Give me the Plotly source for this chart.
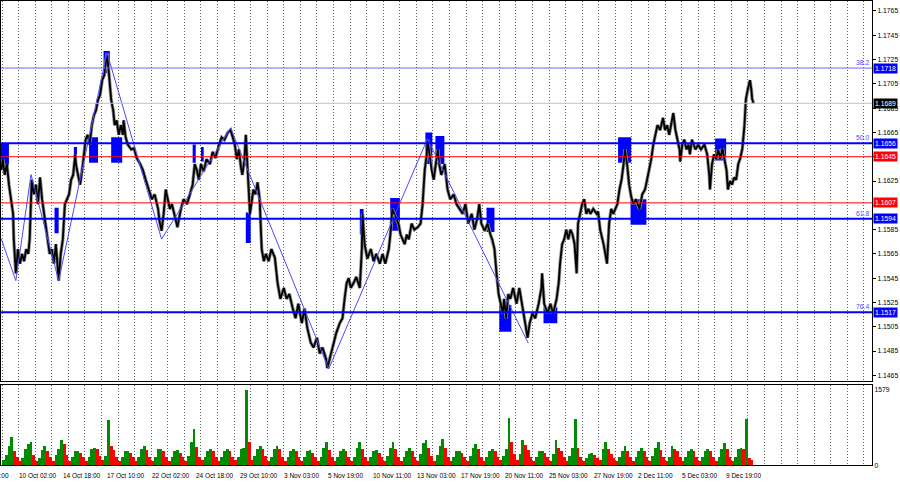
import plotly.graph_objects as go

# ---------------- data ----------------
# hour index: 0 = 7 Oct 10:00 (H1 bars, weekends skipped)
price_hours = [37, 39, 42, 45, 48, 51, 54, 55, 58, 61, 64, 67, 70, 73, 76, 78, 80, 81, 84, 87,
               90, 93, 96, 99, 102, 105, 107, 110, 113, 116, 119, 120, 123, 126, 129, 132, 135, 138, 141, 144,
               145, 148, 151, 154, 157, 159, 162, 165, 168, 171, 174, 177, 180, 183, 186, 188, 190, 193, 196, 199,
               201, 204, 207, 210, 213, 214, 217, 220, 225, 229, 233, 238, 242, 246, 251, 255, 259, 264, 266, 269,
               272, 275, 278, 281, 284, 288, 292, 297, 301, 306, 310, 314, 317, 320, 323, 326, 330, 334, 339, 343,
               347, 352, 356, 360, 365, 369, 372, 375, 378, 381, 384, 386, 389, 391, 394, 397, 400, 402, 405, 408,
               411, 414, 417, 420, 424, 428, 433, 437, 441, 446, 450, 454, 459, 463, 467, 472, 476, 480, 485, 489,
               494, 498, 502, 507, 509, 514, 518, 522, 527, 531, 534, 537, 540, 543, 547, 551, 556, 559, 560, 563,
               567, 572, 576, 580, 585, 589, 593, 598, 601, 603, 606, 609, 612, 615, 618, 621, 624, 627, 631, 635,
               640, 644, 647, 650, 653, 654, 657, 660, 663, 666, 669, 671, 674, 679, 683, 687, 692, 696, 700, 705,
               709, 713, 718, 722, 726, 729, 732, 737, 741, 745, 748, 751, 754, 757, 760, 763, 765, 768, 771, 774,
               778, 783, 787, 791, 794, 799, 802, 806, 810, 815, 819, 820, 823, 828, 832, 836, 841, 844, 846, 849,
               852, 855, 858, 861, 864, 867, 870, 872, 875, 878, 881, 884, 887, 890, 894, 899, 901, 904, 909, 912,
               914, 917, 920, 923, 926, 929, 932, 935, 938, 940, 943, 946, 949, 952, 956, 961, 965, 969, 972, 975,
               978, 981, 984, 987, 991, 995, 998, 1001, 1004, 1007, 1010, 1013, 1016, 1019, 1020, 1023, 1026, 1029, 1032, 1034,
               1037, 1042, 1046, 1050, 1055, 1059, 1062, 1063, 1066, 1069, 1072, 1075, 1078, 1081, 1084, 1087, 1089, 1092, 1095, 1098,
               1101, 1104, 1107, 1110, 1113, 1115, 1118, 1120, 1121, 1123, 1124, 1126]
price_close = [1.1634, 1.1643, 1.1630, 1.1639, 1.1622, 1.1610, 1.1598, 1.1577, 1.1549, 1.1569, 1.1557, 1.1565, 1.1559, 1.1569, 1.1565, 1.1577, 1.1614, 1.1626, 1.1614, 1.1622,
               1.1606, 1.1628, 1.1610, 1.1598, 1.1585, 1.1577, 1.1565, 1.1569, 1.1557, 1.1573, 1.1549, 1.1543, 1.1565, 1.1577, 1.1606, 1.1610, 1.1614, 1.1626, 1.1630, 1.1647,
               1.1639, 1.1630, 1.1622, 1.1634, 1.1651, 1.1659, 1.1663, 1.1655, 1.1671, 1.1679, 1.1683, 1.1692, 1.1696, 1.1708, 1.1712, 1.1724, 1.1730, 1.1712, 1.1692, 1.1683,
               1.1671, 1.1675, 1.1663, 1.1671, 1.1663, 1.1675, 1.1661, 1.1655, 1.1651, 1.1652, 1.1644, 1.1639, 1.1634, 1.1626, 1.1618, 1.1610, 1.1614, 1.1602, 1.1592, 1.1584,
               1.1598, 1.1618, 1.1610, 1.1602, 1.1606, 1.1595, 1.1587, 1.1602, 1.1610, 1.1606, 1.1614, 1.1622, 1.1639, 1.1634, 1.1626, 1.1639, 1.1633, 1.1643, 1.1639, 1.1649,
               1.1644, 1.1655, 1.1661, 1.1659, 1.1665, 1.1667, 1.1661, 1.1655, 1.1643, 1.1651, 1.1636, 1.1630, 1.1643, 1.1663, 1.1630, 1.1598, 1.1610, 1.1618, 1.1614, 1.1624,
               1.1610, 1.1569, 1.1559, 1.1565, 1.1559, 1.1569, 1.1562, 1.1541, 1.1528, 1.1537, 1.1528, 1.1532, 1.1520, 1.1512, 1.1524, 1.1508, 1.1520, 1.1504, 1.1492, 1.1488,
               1.1496, 1.1483, 1.1488, 1.1479, 1.1471, 1.1483, 1.1492, 1.1500, 1.1508, 1.1512, 1.1528, 1.1541, 1.1545, 1.1537, 1.1541, 1.1546, 1.1537, 1.1569, 1.1598, 1.1573,
               1.1561, 1.1569, 1.1559, 1.1565, 1.1557, 1.1565, 1.1557, 1.1569, 1.1585, 1.1602, 1.1598, 1.1594, 1.1590, 1.1581, 1.1577, 1.1573, 1.1581, 1.1577, 1.1590, 1.1585,
               1.1587, 1.1590, 1.1606, 1.1634, 1.1647, 1.1659, 1.1647, 1.1634, 1.1626, 1.1639, 1.1651, 1.1639, 1.1630, 1.1639, 1.1618, 1.1610, 1.1614, 1.1606, 1.1602, 1.1598,
               1.1606, 1.1590, 1.1598, 1.1585, 1.1594, 1.1606, 1.1590, 1.1584, 1.1590, 1.1581, 1.1577, 1.1569, 1.1549, 1.1532, 1.1524, 1.1516, 1.1528, 1.1512, 1.1532, 1.1528,
               1.1537, 1.1524, 1.1537, 1.1524, 1.1512, 1.1496, 1.1508, 1.1516, 1.1512, 1.1524, 1.1537, 1.1549, 1.1524, 1.1516, 1.1524, 1.1516, 1.1528, 1.1541, 1.1557, 1.1573,
               1.1577, 1.1585, 1.1577, 1.1585, 1.1581, 1.1573, 1.1549, 1.1590, 1.1598, 1.1606, 1.1610, 1.1598, 1.1602, 1.1598, 1.1602, 1.1598, 1.1600, 1.1585, 1.1573, 1.1565,
               1.1557, 1.1590, 1.1602, 1.1598, 1.1602, 1.1606, 1.1618, 1.1626, 1.1639, 1.1651, 1.1639, 1.1622, 1.1612, 1.1606, 1.1610, 1.1602, 1.1614, 1.1618, 1.1626, 1.1634,
               1.1643, 1.1655, 1.1663, 1.1671, 1.1667, 1.1677, 1.1667, 1.1671, 1.1663, 1.1671, 1.1681, 1.1667, 1.1659, 1.1651, 1.1641, 1.1655, 1.1659, 1.1651, 1.1655, 1.1647,
               1.1659, 1.1651, 1.1655, 1.1651, 1.1655, 1.1647, 1.1630, 1.1618, 1.1639, 1.1647, 1.1643, 1.1651, 1.1643, 1.1652, 1.1643, 1.1634, 1.1618, 1.1625, 1.1622, 1.1628,
               1.1626, 1.1639, 1.1644, 1.1652, 1.1671, 1.1692, 1.1701, 1.1706, 1.1708, 1.1700, 1.1693, 1.1689]

zigzag_hours = [37, 58, 80, 120, 190, 269, 369, 511, 654, 800]
zigzag_price = [1.15772, 1.15430, 1.16303, 1.15430, 1.17307, 1.15772, 1.16687, 1.14703, 1.16597, 1.14915]

fib_levels = [1.1718, 1.1656, 1.1594, 1.1517]
fib_names = ["38.2", "50.0", "61.8", "76.4"]
red_levels = [1.1645, 1.1607]
bid_price = 1.1689

zone_start = [30, 114, 142, 164, 185, 196, 314, 326, 391, 556, 600, 651, 665.5, 739.5, 758, 822, 930, 948, 1070.5]
zone_end = [48, 120, 146.5, 177, 194, 212, 318.5, 330, 398, 561.5, 614, 661, 678.5, 751, 775.5, 842, 949, 971, 1086.5]
zone_top = [1.1656, 1.1603, 1.1653, 1.1661, 1.1732, 1.1661, 1.1655, 1.1653, 1.1599, 1.1602, 1.1611, 1.1665, 1.1662, 1.1603, 1.1523, 1.1521, 1.1661, 1.1610, 1.1660]
zone_bottom = [1.1637, 1.1582, 1.1637, 1.1640, 1.1714, 1.1640, 1.1640, 1.1641, 1.1574, 1.1581, 1.1584, 1.1639, 1.1639, 1.1583, 1.1501, 1.1508, 1.1640, 1.1589, 1.1642]

# volume, 4-hour blocks starting 9 Oct 00:00 (six blocks per day)
volume_4h = [110, 220, 400, 600, 310, 170,   100, 150, 340, 450, 480, 210,   100, 150, 320, 400, 310, 180,
             100, 210, 340, 530, 440, 210,   100, 170, 290, 310, 260, 170,   100, 170, 340, 370, 350, 200,
             110, 200, 950, 410, 320, 180,   100, 170, 300, 310, 260, 170,   100, 180, 350, 400, 320, 180,
             100, 180, 340, 350, 300, 170,   100, 170, 300, 320, 260, 170,   100, 200, 480, 760, 380, 180,
             110, 180, 300, 340, 290, 170,   100, 170, 310, 340, 300, 180,   105, 180, 340, 370, 1579, 480,
             110, 200, 350, 410, 350, 200,   100, 180, 340, 410, 340, 180,   100, 170, 300, 340, 290, 170,
             100, 180, 300, 320, 260, 170,   100, 180, 370, 480, 320, 170,   100, 180, 300, 340, 290, 170,
             100, 170, 370, 480, 340, 180,   100, 170, 300, 320, 260, 170,   100, 200, 370, 480, 340, 180,
             100, 180, 310, 370, 300, 170,   100, 240, 460, 530, 370, 200,   100, 210, 410, 560, 370, 180,
             100, 170, 290, 310, 260, 170,   100, 200, 370, 440, 340, 180,   100, 170, 300, 340, 290, 170,
             110, 200, 350, 1000, 480, 240,  110, 240, 530, 420, 320, 180,  100, 170, 300, 310, 260, 170,
             100, 240, 530, 370, 310, 180,   100, 200, 370, 960, 370, 180,   100, 150, 240, 260, 220, 150,
             110, 350, 480, 340, 240, 150,   100, 180, 310, 410, 300, 170,   100, 180, 310, 370, 300, 170,
             100, 200, 370, 490, 320, 170,   100, 180, 410, 350, 290, 170,   100, 170, 300, 340, 290, 170,
             100, 180, 300, 350, 300, 170,   100, 180, 350, 460, 350, 180,   100, 180, 340, 370, 350, 960,
             150, 120]
volume_max_label = 1579

date_labels = ["7 Oct 10:00", "10 Oct 02:00", "14 Oct 18:00", "17 Oct 10:00", "22 Oct 02:00",
               "24 Oct 18:00", "29 Oct 10:00", "3 Nov 03:00", "5 Nov 19:00", "10 Nov 11:00",
               "13 Nov 03:00", "17 Nov 19:00", "20 Nov 11:00", "25 Nov 03:00", "27 Nov 19:00",
               "2 Dec 11:00", "5 Dec 03:00", "9 Dec 19:00"]
label_step = 64          # hours between time labels
first_midnight = 14      # hour index of 8 Oct 00:00
volume_start = 38        # hour index of 9 Oct 00:00

# ---------------- layout constants ----------------
W, H = 900, 485
X_LO, X_HI = 36.5, 1297.7
Y_LO, Y_HI = 1.146051, 1.17732
X_DOM = 872 / W
MAIN_DOM = [1 - 383 / H, 1.0]
VOL_DOM = [1 - 468 / H, 1 - 387 / H]
FONT = "Liberation Sans"
FS = 6.8

def hx(h):
    return (h - X_LO) / (X_HI - X_LO) * X_DOM

fig = go.Figure()

# zones
for x0, x1, y1, y0 in zip(zone_start, zone_end, zone_top, zone_bottom):
    fig.add_shape(type="rect", xref="x", yref="y", x0=x0, x1=x1, y0=y0, y1=y1,
                  fillcolor="#0000ff", line_width=0, layer="between")

# price (gray shadow + black line)
fig.add_trace(go.Scatter(x=price_hours, y=price_close, mode="lines",
                         line=dict(color="#8c8c8c", width=3.4), hoverinfo="skip", showlegend=False))
fig.add_trace(go.Scatter(x=price_hours, y=price_close, mode="lines",
                         line=dict(color="#000000", width=1.8), hoverinfo="skip", showlegend=False))
# zigzag
fig.add_trace(go.Scatter(x=zigzag_hours, y=zigzag_price, mode="lines",
                         line=dict(color="#4a4aff", width=1), hoverinfo="skip", showlegend=False))

# volume bars (green when rising, red when falling)
vol_x = [volume_start + 4 * i + 2 for i in range(len(volume_4h))]
vol_col = []
prev = None
for v in volume_4h:
    vol_col.append("#008c00" if (prev is None or v > prev) else "#ff0000")
    prev = v
fig.add_trace(go.Bar(x=vol_x, y=volume_4h, width=4, marker=dict(color=vol_col, line_width=0),
                     xaxis="x2", yaxis="y2", hoverinfo="skip", showlegend=False))

# horizontal levels
fig.add_hline(y=bid_price, line=dict(color="#c0c0c0", width=1))
for lv in red_levels:
    fig.add_hline(y=lv, line=dict(color="#ff0000", width=1))
for lv, nm in zip(fib_levels, fib_names):
    thin = nm == "38.2"
    fig.add_hline(y=lv, line=dict(color="#6a6aff" if thin else "#0000ff", width=1 if thin else 2))
    fig.add_annotation(x=871 / W, xref="paper", y=lv, yref="y", text=nm, showarrow=False,
                       xanchor="right", yanchor="bottom", font=dict(family=FONT, size=FS, color="#4a4aff"))

# right-side price boxes
boxes = [(fib_levels[0], "#0000ff"), (bid_price, "#000000"), (fib_levels[1], "#0000ff"),
         (red_levels[0], "#ff0000"), (red_levels[1], "#ff0000"), (fib_levels[2], "#0000ff"),
         (fib_levels[3], "#0000ff")]
for lv, col in boxes:
    fig.add_annotation(x=873 / W, xref="paper", y=lv, yref="y", text=f"{lv:.4f}", showarrow=False,
                       xanchor="left", yanchor="middle", bgcolor=col, borderpad=1,
                       font=dict(family=FONT, size=FS, color="#ffffff"))

# time labels
for k, lab in enumerate(date_labels):
    fig.add_annotation(x=hx(k * label_step), xref="paper", y=(H - 476) / H, yref="paper", text=lab,
                       showarrow=False, xanchor="left", yanchor="middle", xshift=-3, yshift=-2,
                       font=dict(family=FONT, size=6.5, color="#000000"))

midnights = list(range(first_midnight, 1300, 24))
price_ticks = [round(1.1465 + 0.002 * i, 4) for i in range(16)]
hidden_ticks = [1.1645, 1.1605]   # covered by the red price boxes in the reference
price_ticktext = ["" if t in hidden_ticks else f"{t:.4f}" for t in price_ticks]

axis_common = dict(showline=True, linecolor="#000000", linewidth=1, mirror=True, zeroline=False)
fig.update_layout(
    width=W, height=H, margin=dict(l=0, r=0, t=0, b=0),
    paper_bgcolor="#ffffff", plot_bgcolor="#ffffff", bargap=0, showlegend=False,
    xaxis=dict(domain=[0, X_DOM], range=[X_LO, X_HI], anchor="y", tickvals=midnights,
               showticklabels=False, ticks="", showgrid=True, gridcolor="#606060",
               griddash="1px,2px", gridwidth=1, **axis_common),
    yaxis=dict(domain=MAIN_DOM, range=[Y_LO, Y_HI], side="right", anchor="x",
               tickvals=price_ticks, ticktext=price_ticktext,
               ticks="outside", ticklen=3, tickcolor="#000000", showgrid=False,
               tickfont=dict(family=FONT, size=FS, color="#000000"), **axis_common),
    xaxis2=dict(domain=[0, X_DOM], range=[X_LO, X_HI], anchor="y2", matches="x", tickvals=midnights,
                showticklabels=False, ticks="", showgrid=True, gridcolor="#606060",
                griddash="1px,2px", gridwidth=1, **axis_common),
    yaxis2=dict(domain=VOL_DOM, range=[0, 1680], side="right", anchor="x2",
                tickvals=[0, volume_max_label], ticktext=["0", str(volume_max_label)],
                ticks="", showgrid=False,
                tickfont=dict(family=FONT, size=FS, color="#000000"), **axis_common),
)

fig.write_html("out.html", config={"displayModeBar": False},
               post_script="document.body.style.margin='0';document.body.style.overflow='hidden';")
